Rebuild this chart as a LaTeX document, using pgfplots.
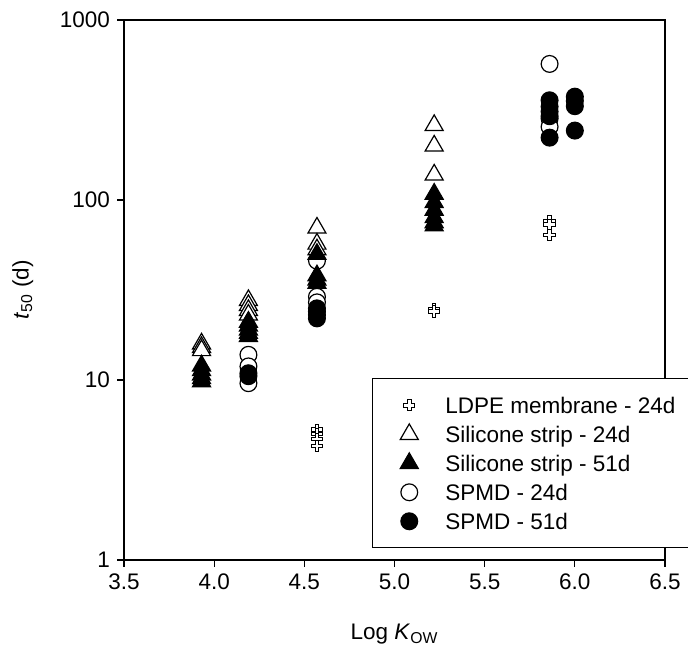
\documentclass[border=0pt]{standalone}
\usepackage{fontspec}
\setmainfont{Liberation Sans}
\usepackage{pgfplots}
\pgfplotsset{compat=1.18}

\pgfdeclareplotmark{hollowplus}{%
  \pgfpathmoveto{\pgfqpoint{-0.32\pgfplotmarksize}{\pgfplotmarksize}}%
  \pgfpathlineto{\pgfqpoint{0.32\pgfplotmarksize}{\pgfplotmarksize}}%
  \pgfpathlineto{\pgfqpoint{0.32\pgfplotmarksize}{0.32\pgfplotmarksize}}%
  \pgfpathlineto{\pgfqpoint{\pgfplotmarksize}{0.32\pgfplotmarksize}}%
  \pgfpathlineto{\pgfqpoint{\pgfplotmarksize}{-0.32\pgfplotmarksize}}%
  \pgfpathlineto{\pgfqpoint{0.32\pgfplotmarksize}{-0.32\pgfplotmarksize}}%
  \pgfpathlineto{\pgfqpoint{0.32\pgfplotmarksize}{-\pgfplotmarksize}}%
  \pgfpathlineto{\pgfqpoint{-0.32\pgfplotmarksize}{-\pgfplotmarksize}}%
  \pgfpathlineto{\pgfqpoint{-0.32\pgfplotmarksize}{-0.32\pgfplotmarksize}}%
  \pgfpathlineto{\pgfqpoint{-\pgfplotmarksize}{-0.32\pgfplotmarksize}}%
  \pgfpathlineto{\pgfqpoint{-\pgfplotmarksize}{0.32\pgfplotmarksize}}%
  \pgfpathlineto{\pgfqpoint{-0.32\pgfplotmarksize}{0.32\pgfplotmarksize}}%
  \pgfpathclose
  \pgfusepathqfillstroke}

\pgfplotsset{
  ldpe/.style={black, only marks, mark=hollowplus, mark size=2.8pt,
    mark options={draw=black, fill=white, line width=0.5pt}},
  otri/.style={black, only marks, mark=triangle*, mark size=5.2pt,
    mark options={draw=black, fill=white, line width=0.6pt}},
  ftri/.style={black, only marks, mark=triangle*, mark size=5.2pt,
    mark options={draw=black, fill=black, line width=0.6pt}},
  ocirc/.style={black, only marks, mark=*, mark size=4.2pt,
    mark options={draw=black, fill=white, line width=0.6pt}},
  fcirc/.style={black, only marks, mark=*, mark size=4.2pt,
    mark options={draw=black, fill=black, line width=0.6pt}},
  legimg/.style={legend image code/.code={%
    \path[draw=none, fill=none] (-9.5pt,-5pt) rectangle (9.5pt,5pt);
    \draw[##1] plot coordinates {(0pt,0pt)};}},
}

\begin{document}
\begin{tikzpicture}
\begin{axis}[
  at={(0,0)}, anchor=south west,
  scale only axis, width=270.5pt, height=270pt,
  ymode=log, xmin=3.5, xmax=6.5, ymin=1, ymax=1000,
  xtick={3.5,4,4.5,5,5.5,6,6.5},
  xticklabels={3.5,4.0,4.5,5.0,5.5,6.0,6.5},
  ytick={1,10,100,1000}, yticklabels={1,10,100,1000},
  yminorticks=false,
  tick pos=left, tick align=outside, major tick length=3.5pt,
  axis line style={line width=0.6pt},
  every tick/.style={black, line width=0.6pt},
  font=\fontsize{11.25}{13.5}\selectfont,
  /pgf/number format/assume math mode=true,
  xlabel={Log \textit{K}\textsubscript{OW}},
  ylabel={\textit{t}\textsubscript{50} (d)},
  every axis x label/.style={at={(axis description cs:0.5,-0.148)}, anchor=base},
  every axis y label/.style={at={(axis description cs:-0.187,0.5)}, rotate=90, anchor=center},
  legend cell align=left,
  legend style={at={(axis description cs:0.458,0.3365)}, anchor=north west,
    draw=black, line width=0.5pt, inner xsep=9pt, inner ysep=6pt,
    row sep=0pt, column sep=7.5pt,
    font=\fontsize{11.25}{13.5}\selectfont,
    nodes={inner sep=1pt, text height=10.25pt, text depth=2.25pt}},
]
\addlegendimage{ldpe, legimg}
\addlegendentry{LDPE membrane - 24d}
\addlegendimage{otri, legimg}
\addlegendentry{Silicone strip - 24d}
\addlegendimage{ftri, legimg}
\addlegendentry{Silicone strip - 51d}
\addlegendimage{ocirc, legimg}
\addlegendentry{SPMD - 24d}
\addlegendimage{fcirc, legimg}
\addlegendentry{SPMD - 51d}

% Silicone strip - 24d
\addplot[otri, forget plot] coordinates {
 (3.93,15.9)(3.93,15.2)(3.93,14.6)
 (4.19,27.7)(4.19,26.0)(4.19,24.4)(4.19,23.0)
 (4.57,70)(4.57,57)(4.57,53)
 (5.22,260)(5.22,200)(5.22,138)
};
% SPMD - 24d
\addplot[ocirc, forget plot] coordinates {
 (4.19,13.8)(4.19,11.9)(4.19,9.6)
 (4.57,46)(4.57,29)(4.57,27)
 (5.86,570)(5.86,283)(5.86,255)
};
% LDPE membrane - 24d
\addplot[ldpe, forget plot] coordinates {
 (4.57,5.3)(4.57,5.0)(4.57,4.7)(4.57,4.3)
 (5.22,24.8)(5.22,24.0)
 (5.86,76)(5.86,73)(5.86,64)
};
% Silicone strip - 51d
\addplot[ftri, forget plot] coordinates {
 (3.93,12.0)(3.93,11.3)(3.93,10.7)(3.93,10.2)(3.93,9.8)
 (4.19,21.0)(4.19,20.0)(4.19,19.0)(4.19,18.2)(4.19,17.5)
 (4.57,50)(4.57,38)(4.57,36)(4.57,34.5)
 (5.22,108)(5.22,97)(5.22,88)(5.22,80)(5.22,75)(5.22,72)
};
% SPMD - 51d
\addplot[fcirc, forget plot] coordinates {
 (4.19,10.9)(4.19,10.5)
 (4.57,25)(4.57,24)(4.57,23)(4.57,22)
 (5.86,358)(5.86,330)(5.86,310)(5.86,292)(5.86,222)
 (6.00,375)(6.00,355)(6.00,332)(6.00,243)
};
\end{axis}
\pgfresetboundingbox
\path[use as bounding box] (-62pt,-45.5pt) rectangle (282pt,280pt);
\end{tikzpicture}
\end{document}
